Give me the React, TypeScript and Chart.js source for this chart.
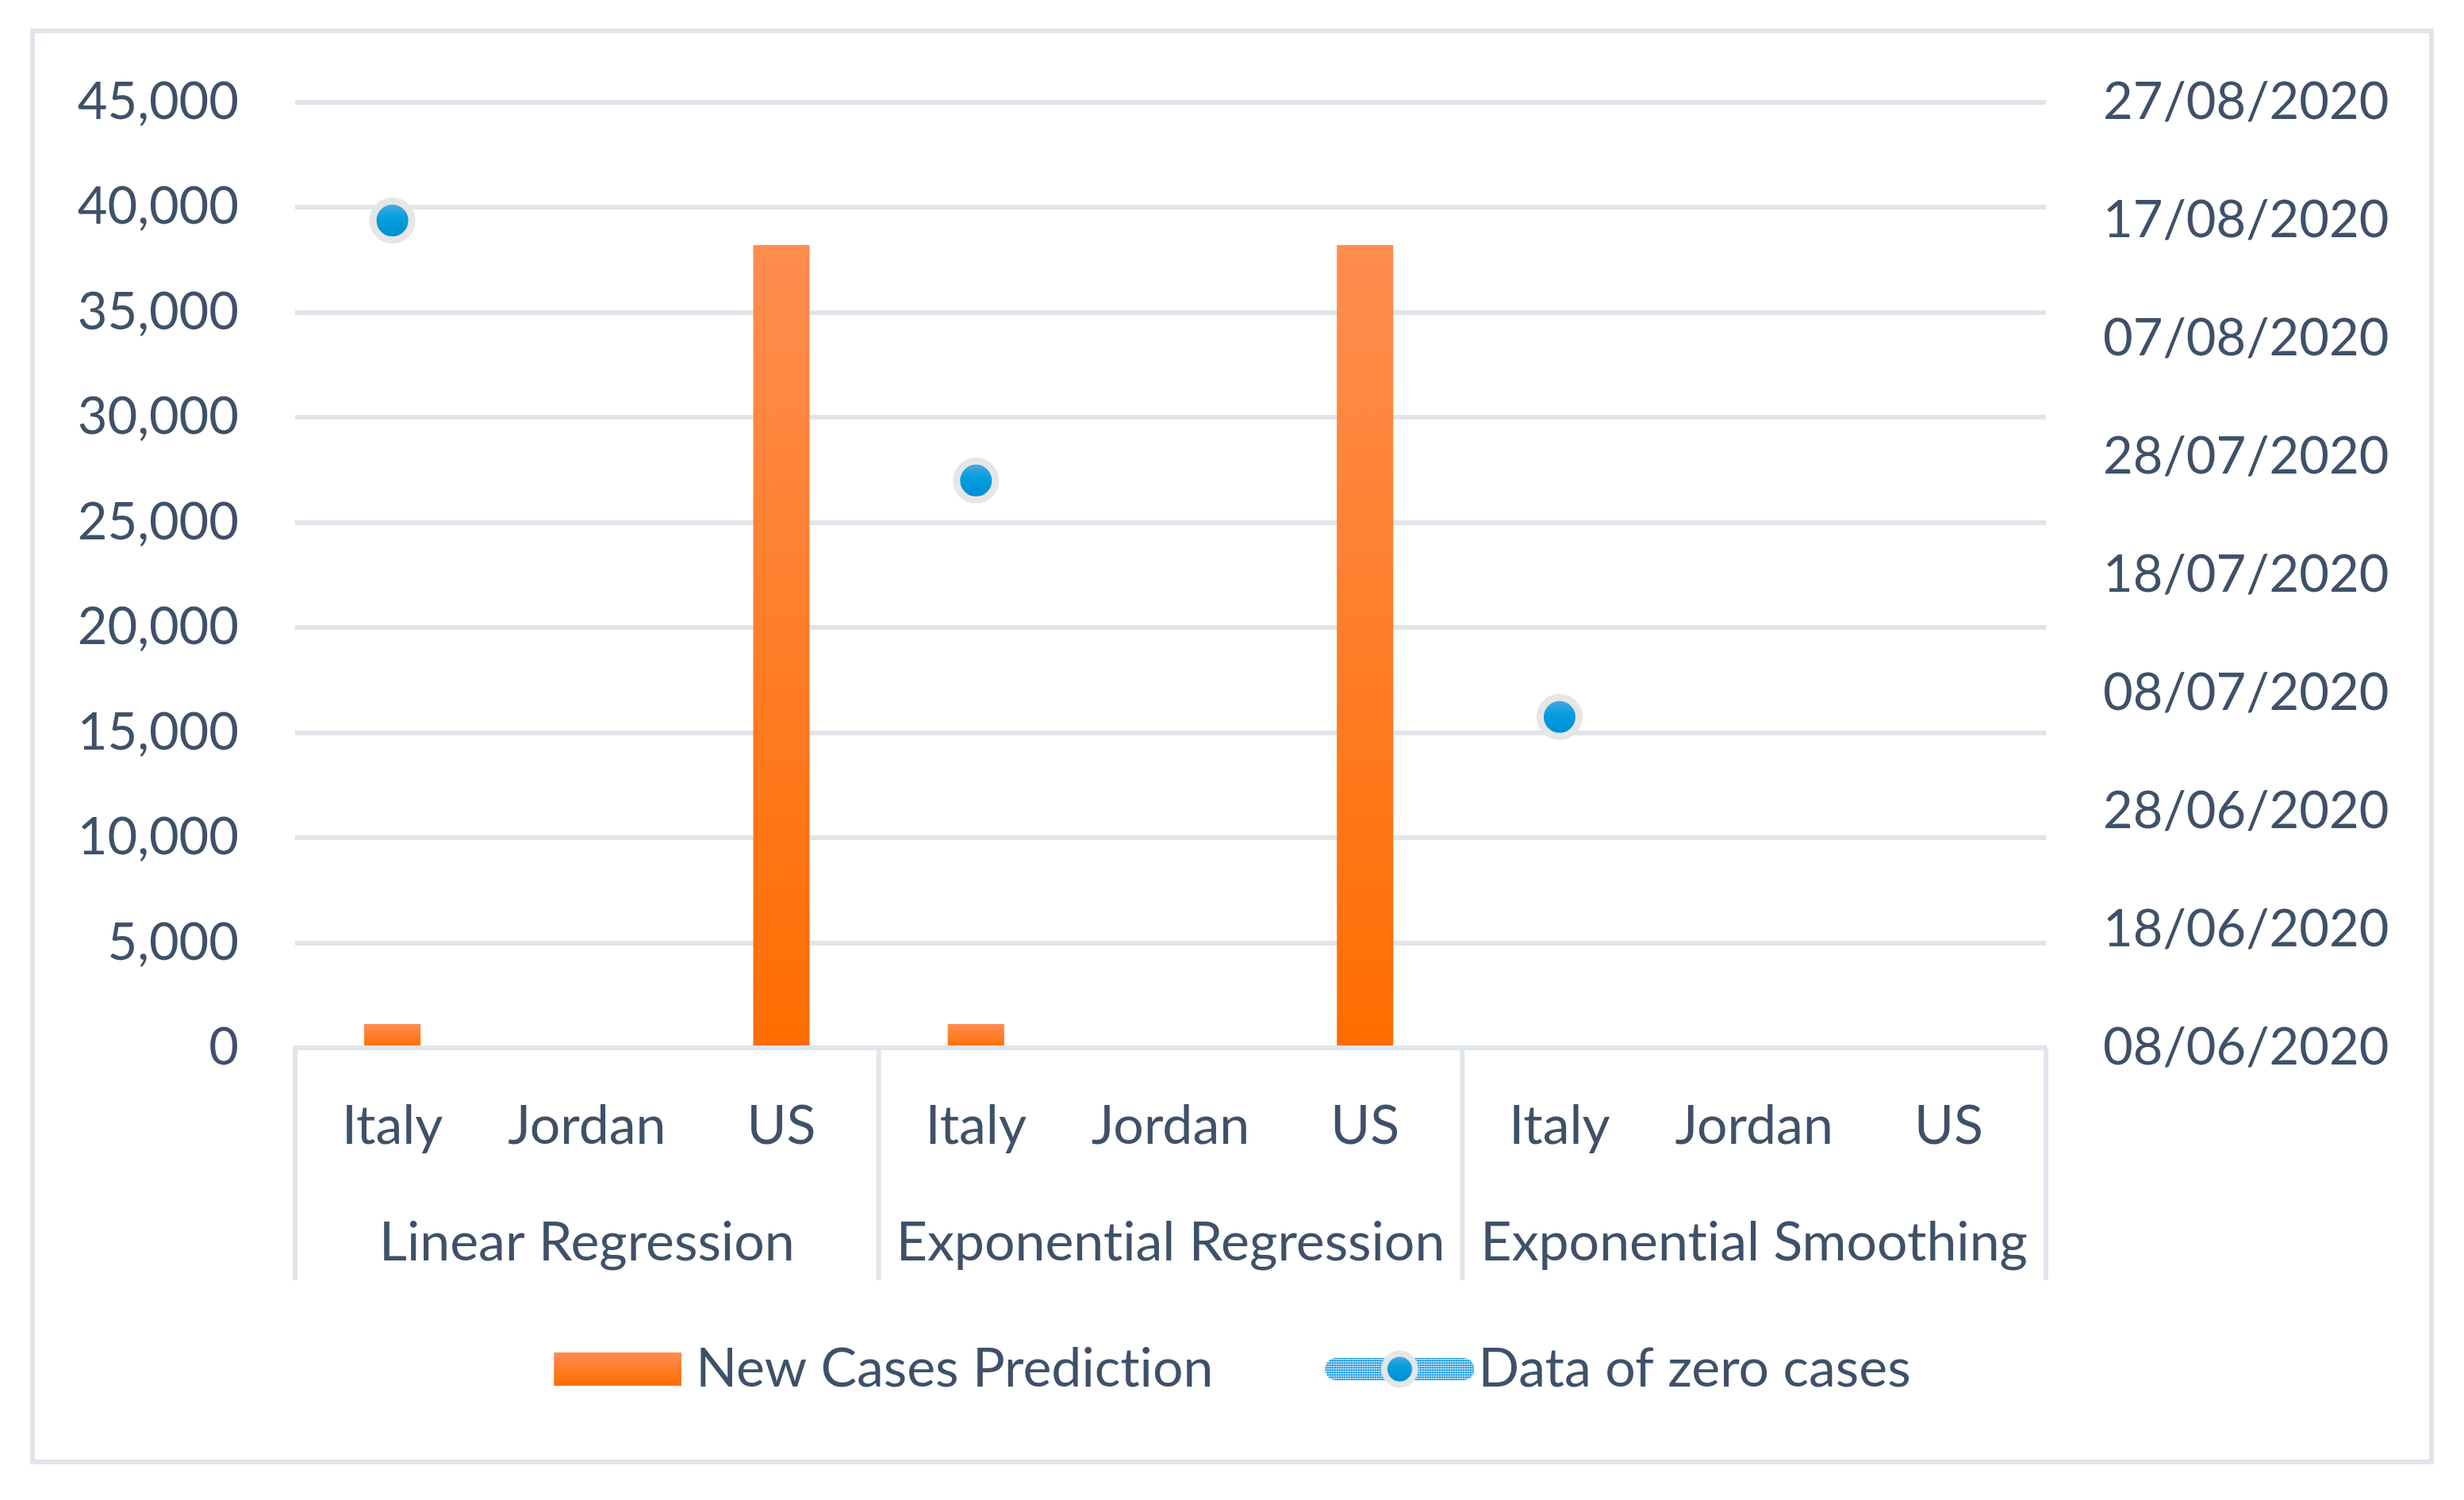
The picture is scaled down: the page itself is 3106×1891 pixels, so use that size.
import React, { useEffect, useRef } from "react";
import { Chart, registerables } from "chart.js";

Chart.register(...registerables);

// ---------- data ----------
const methods = ["Linear Regression", "Exponential Regression", "Exponential Smoothing"];
const categories = ["Italy", "Jordan", "US", "Italy", "Jordan", "US", "Italy", "Jordan", "US"];
const newCasesPrediction = [1130, 0, 38200, 1130, 0, 38200, 0, 0, 0];
const zeroCaseDates = ["17/08/2020", null, null, "26/07/2020", null, null, "06/07/2020", null, null];
const dateTicks = [
  "08/06/2020", "18/06/2020", "28/06/2020", "08/07/2020", "18/07/2020",
  "28/07/2020", "07/08/2020", "17/08/2020", "27/08/2020",
];
const casesMin = 0;
const casesMax = 45000;
const casesStep = 5000;
const seriesNames = ["New Cases Prediction", "Data of zero cases"];

// ---------- helpers ----------
const TEXT = "#3E5168";
const GRID = "#DFE5EB";
const FONT = "Lato";

function dayNum(s: string): number {
  const [d, m, y] = s.split("/").map(Number);
  return Date.UTC(y, m - 1, d) / 86400000;
}
const baseDay = dayNum(dateTicks[0]);
const zeroCaseDays = zeroCaseDates.map((s) => (s ? dayNum(s) - baseDay : null));
const dateMax = dayNum(dateTicks[dateTicks.length - 1]) - baseDay;
const dateStep = dayNum(dateTicks[1]) - baseDay;

function makeBarIcon(): HTMLCanvasElement {
  const c = document.createElement("canvas");
  c.width = 242;
  c.height = 42;
  const g = c.getContext("2d")!;
  const gr = g.createLinearGradient(0, 0, 0, 42);
  gr.addColorStop(0, "#FF8D50");
  gr.addColorStop(1, "#FF6D00");
  g.fillStyle = gr;
  g.fillRect(81, 0, 161, 42);
  return c;
}

function makePointIcon(): HTMLCanvasElement {
  const c = document.createElement("canvas");
  c.width = 268;
  c.height = 60;
  const g = c.getContext("2d")!;
  const x0 = 80;
  const w = 188;
  const cy = 30;
  const h = 28;
  // pill-shaped textured band
  g.save();
  g.beginPath();
  g.moveTo(x0 + h / 2, cy - h / 2);
  g.lineTo(x0 + w - h / 2, cy - h / 2);
  g.arc(x0 + w - h / 2, cy, h / 2, -Math.PI / 2, Math.PI / 2);
  g.lineTo(x0 + h / 2, cy + h / 2);
  g.arc(x0 + h / 2, cy, h / 2, Math.PI / 2, (3 * Math.PI) / 2);
  g.closePath();
  g.clip();
  g.fillStyle = "#1E9BE0";
  g.fillRect(x0, cy - h / 2, w, h);
  g.fillStyle = "#FFFFFF";
  for (let y = cy - h / 2 + 1; y < cy + h / 2; y += 3) {
    for (let x = x0 + 1; x < x0 + w; x += 3) {
      g.fillRect(x, y, 2, 1.5);
    }
  }
  g.restore();
  const cx = x0 + w / 2;
  g.fillStyle = "#E6E6E6";
  g.beginPath();
  g.arc(cx, cy, 23.5, 0, Math.PI * 2);
  g.fill();
  const gr = g.createLinearGradient(0, cy - 16, 0, cy + 16);
  gr.addColorStop(0, "#45A9E2");
  gr.addColorStop(0.4, "#049EDE");
  gr.addColorStop(1, "#008FD4");
  g.fillStyle = gr;
  g.beginPath();
  g.arc(cx, cy, 15.5, 0, Math.PI * 2);
  g.fill();
  return c;
}

const separatorPlugin = {
  id: "groupSeparators",
  beforeDraw(chart: any) {
    const c: any = chart.ctx;
    try {
      c.textRendering = "optimizeSpeed";
    } catch (e) {}
  },
  afterDraw(chart: any) {
    const x = chart.scales.x;
    const { ctx, chartArea } = chart;
    const n = categories.length;
    const per = n / methods.length;
    ctx.save();
    ctx.strokeStyle = GRID;
    ctx.lineWidth = 6;
    for (let i = 0; i <= n; i += per) {
      const px = x.left + (i * x.width) / n;
      ctx.beginPath();
      ctx.moveTo(px, chartArea.bottom);
      ctx.lineTo(px, chartArea.bottom + 293);
      ctx.stroke();
    }
    ctx.restore();
  },
};

function fixHoriz(h: number) {
  return (s: any) => {
    s.height = h;
    s.paddingLeft = 0;
    s.paddingRight = 0;
  };
}
function fixVert(w: number) {
  return (s: any) => {
    s.width = w;
    s.paddingTop = 0;
    s.paddingBottom = 0;
  };
}

export default function App() {
  const ref = useRef<HTMLCanvasElement | null>(null);

  useEffect(() => {
    if (!ref.current) return;
    const icons = [makeBarIcon(), makePointIcon()];
    const chart = new Chart(ref.current, {
      type: "bar",
      data: {
        labels: categories,
        datasets: [
          {
            type: "bar",
            label: seriesNames[0],
            data: newCasesPrediction,
            yAxisID: "y",
            xAxisID: "x",
            categoryPercentage: 0.29,
            barPercentage: 1,
            borderWidth: 0,
            backgroundColor: (ctx: any) => {
              const chart = ctx.chart;
              const v = ctx.raw;
              if (!chart.chartArea || ctx.type !== "data" || !v) return "#FF7A1F";
              const top = chart.scales.y.getPixelForValue(v);
              const bottom = chart.scales.y.getPixelForValue(0);
              const g = chart.ctx.createLinearGradient(0, top, 0, bottom);
              g.addColorStop(0, "#FF8D50");
              g.addColorStop(1, "#FF6D00");
              return g;
            },
          } as any,
          {
            type: "line",
            label: seriesNames[1],
            data: zeroCaseDays,
            yAxisID: "y2",
            xAxisID: "x",
            showLine: false,
            pointRadius: 24.5,
            pointHoverRadius: 24.5,
            pointBorderWidth: 9,
            pointBorderColor: "#E6E6E6",
            pointBackgroundColor: (ctx: any) => {
              const chart = ctx.chart;
              const v = ctx.raw;
              if (!chart.chartArea || ctx.type !== "data" || v == null) return "#049EDE";
              const py = chart.scales.y2.getPixelForValue(v);
              const g = chart.ctx.createLinearGradient(0, py - 20, 0, py + 20);
              g.addColorStop(0, "#45A9E2");
              g.addColorStop(0.4, "#049EDE");
              g.addColorStop(1, "#008FD4");
              return g;
            },
          } as any,
        ],
      },
      options: {
        animation: false,
        responsive: false,
        devicePixelRatio: 1,
        layout: { padding: { left: 32, right: 95, top: 129, bottom: 121 } },
        font: { family: FONT, size: 65 },
        scales: {
          x: {
            type: "category",
            position: "bottom",
            offset: true,
            grid: { display: false, drawTicks: false },
            border: { display: true, color: GRID, width: 6 },
            afterFit: fixHoriz(138),
            ticks: {
              color: TEXT,
              padding: 60,
              maxRotation: 0,
              autoSkip: false,
              font: { family: FONT, size: 68, lineHeight: "78px" },
            },
          },
          x2: {
            type: "category",
            position: "bottom",
            weight: 1,
            labels: methods,
            offset: true,
            grid: { display: false, drawTicks: false },
            border: { display: false },
            afterFit: fixHoriz(143),
            ticks: {
              color: TEXT,
              padding: 69,
              maxRotation: 0,
              autoSkip: false,
              font: { family: FONT, size: 68, lineHeight: "78px" },
            },
          },
          y: {
            type: "linear",
            position: "left",
            min: casesMin,
            max: casesMax,
            grid: { color: GRID, lineWidth: 6, drawTicks: false },
            border: { display: false },
            afterFit: fixVert(340),
            ticks: {
              stepSize: casesStep,
              color: TEXT,
              padding: 71,
              font: { family: FONT, size: 65, lineHeight: "78px" },
              callback: (v: any) => Number(v).toLocaleString("en-US"),
            },
          },
          y2: {
            type: "linear",
            position: "right",
            min: 0,
            max: dateMax,
            grid: { display: false, drawOnChartArea: false, drawTicks: false },
            border: { display: false },
            afterFit: fixVert(432),
            ticks: {
              stepSize: dateStep,
              color: TEXT,
              padding: 72,
              font: { family: FONT, size: 65, lineHeight: "78px" },
              callback: (_v: any, i: number) => dateTicks[i],
            },
          },
        },
        plugins: {
          tooltip: { enabled: false },
          legend: {
            display: true,
            position: "bottom",
            labels: {
              usePointStyle: true,
              pointStyleWidth: 210,
              padding: 90,
              color: TEXT,
              font: { family: FONT, size: 68 },
              generateLabels: (ch: any) => {
                const items = (Chart.defaults.plugins.legend.labels as any).generateLabels(ch);
                items.forEach((it: any, i: number) => {
                  it.pointStyle = icons[i];
                  it.fontColor = TEXT;
                });
                return items;
              },
            },
          },
        },
      } as any,
      plugins: [separatorPlugin],
    });
    return () => chart.destroy();
  }, []);

  return (
    <div style={{ position: "absolute", left: 0, top: 0, width: 3106, height: 1891, background: "#fff" }}>
      <div
        style={{
          position: "absolute",
          left: 38,
          top: 36,
          width: 3030,
          height: 1810,
          border: "6px solid #DFE5EB",
          boxSizing: "border-box",
        }}
      />
      <canvas
        ref={ref}
        width={3106}
        height={1891}
        style={{ position: "absolute", left: 0, top: 0, width: 3106, height: 1891 }}
      />
    </div>
  );
}
